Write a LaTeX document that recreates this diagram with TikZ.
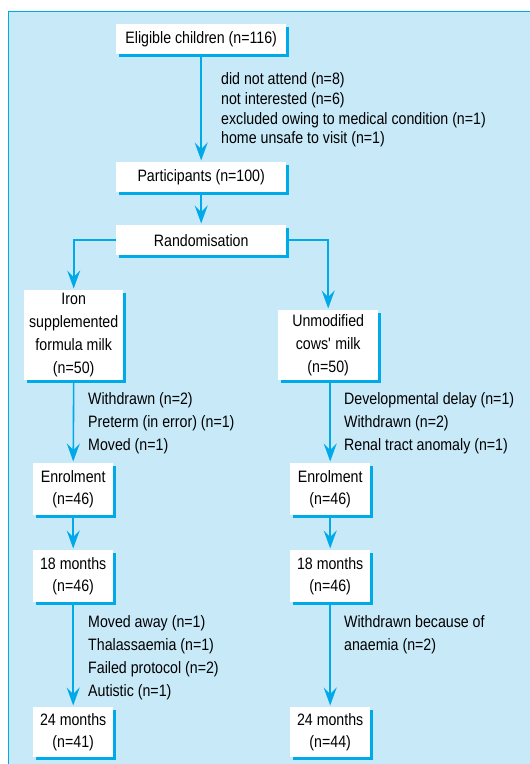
\documentclass[tikz,border=0pt]{standalone}
\usepackage{fontspec}
\setmainfont{Liberation Sans}[FakeStretch=0.86]
\usetikzlibrary{arrows.meta,shadows}
\definecolor{panel}{HTML}{C8E9F8}
\definecolor{cy}{HTML}{00AAE8}
\begin{document}
\begin{tikzpicture}[x=1pt,y=-1pt,
  box/.style={fill=white, inner sep=0pt, align=center, anchor=north west,
    font=\fontsize{16.5}{22.8}\selectfont,
    drop shadow={shadow xshift=3pt, shadow yshift=-3pt, fill=cy, opacity=1}},
  lst/.style={inner sep=0pt, align=left, anchor=north west,
    font=\fontsize{16.5}{22.8}\selectfont},
  arr/.style={draw=cy, line width=1.6pt, shorten >=1.5pt,
    -{Stealth[length=18pt, width=13pt, inset=6.5pt]}}]
\useasboundingbox (0,0) rectangle (530,764);
\fill[panel] (8.5,11.5) rectangle (535,770);
\draw[cy, line width=1.2pt] (8.5,770) -- (8.5,11.5) -- (535,11.5);

\node[box, minimum width=170pt, minimum height=30pt] (e) at (116,24) {Eligible children (n=116)};
\node[box, minimum width=170pt, minimum height=30pt] (p) at (116,162) {Participants (n=100)};
\node[box, minimum width=170pt, minimum height=30pt] (r) at (116,225) {Randomisation};
\node[box, minimum width=99pt, minimum height=90pt] (iron) at (24,290) {Iron\\supplemented\\formula milk\\(n=50)};
\node[box, minimum width=100pt, minimum height=70pt] (unm) at (278,310) {Unmodified\\cows\textquotesingle\ milk\\(n=50)};
\node[box, minimum width=80pt, minimum height=52pt] (en1) at (33,463) {Enrolment\\(n=46)};
\node[box, minimum width=80pt, minimum height=52pt] (en2) at (290,463) {Enrolment\\(n=46)};
\node[box, minimum width=80pt, minimum height=52pt] (ma) at (33,550) {18 months\\(n=46)};
\node[box, minimum width=80pt, minimum height=52pt] (mb) at (290,550) {18 months\\(n=46)};
\node[box, minimum width=80pt, minimum height=50pt] (ta) at (33,707) {24 months\\(n=41)};
\node[box, minimum width=80pt, minimum height=50pt] (tb) at (290,707) {24 months\\(n=44)};

\node[lst, font=\fontsize{16.5}{19.7}\selectfont] (l0) at (221,72.5) {did not attend (n=8)\\not interested (n=6)\\excluded owing to medical condition (n=1)\\home unsafe to visit (n=1)};
\node[lst] (l1) at (88,392.5) {Withdrawn (n=2)\\Preterm (in error) (n=1)\\Moved (n=1)};
\node[lst] (l2) at (344,392.5) {Developmental delay (n=1)\\Withdrawn (n=2)\\Renal tract anomaly (n=1)};
\node[lst] (l3) at (88,615.5) {Moved away (n=1)\\Thalassaemia (n=1)\\Failed protocol (n=2)\\Autistic (n=1)};
\node[lst] (l4) at (344,615.5) {Withdrawn because of\\anaemia (n=2)};

\draw[arr] (e.south) -- (p.north);
\draw[arr] (p.south) -- (r.north);
\draw[arr] (r.west) -| (iron.north);
\draw[arr] (r.east) -| (unm.north);
\draw[arr] (iron.south) -- (en1.north);
\draw[arr] (unm.south -| en2.north) -- (en2.north);
\draw[arr] (en1.south) -- (ma.north);
\draw[arr] (en2.south) -- (mb.north);
\draw[arr] (ma.south) -- (ta.north);
\draw[arr] (mb.south) -- (tb.north);
\end{tikzpicture}
\end{document}
